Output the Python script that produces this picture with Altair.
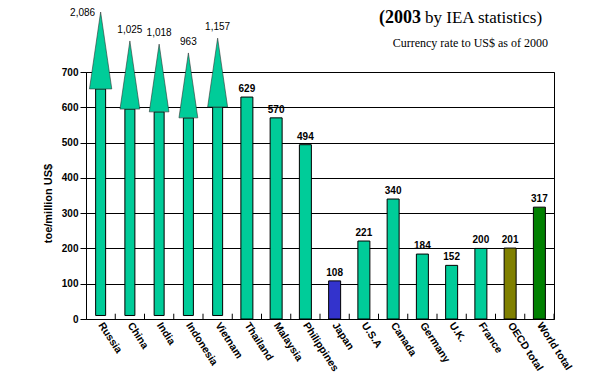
import altair as alt
import pandas as pd

countries = ["Russia", "China", "India", "Indonesia", "Vietnam", "Thailand", "Malaysia",
             "Philippines", "Japan", "U.S.A", "Canada", "Germany", "U.K.", "France",
             "OECD total", "World total"]
values = [2086, 1025, 1018, 963, 1157, 629, 570, 494, 108, 221, 340, 184, 152, 200, 201, 317]
colors = ["#00CC99"] * 8 + ["#3333CC"] + ["#00CC99"] * 5 + ["#808000", "#008000"]

# off-scale countries drawn as arrows (head base / tip, in toe units)
arrow_countries = countries[:5]
arrow_values = values[:5]
arrow_base = [652, 595, 587, 570, 601]
arrow_tip = [870, 788, 779, 754, 796]
shaft_start = 10

title_a = "(2003"
title_b = "by IEA statistics)"
subtitle = "Currency rate to US$ as of 2000"
y_title = "toe/million US$"
y_ticks = [0, 100, 200, 300, 400, 500, 600, 700]

W, H = 468, 247
YMAX = 700
TEAL = "#00CC99"
px_per_unit = H / YMAX

bars = pd.DataFrame({"country": countries[5:], "value": values[5:], "color": colors[5:]})
bars["label"] = bars["value"].map(lambda v: f"{v:,}")

arrows = pd.DataFrame({"country": arrow_countries, "value": arrow_values,
                       "base": arrow_base, "tip": arrow_tip})
arrows["start"] = shaft_start
arrows["mid"] = (arrows["base"] + arrows["tip"]) / 2
arrows["sz"] = ((arrows["tip"] - arrows["base"]) * px_per_unit) ** 2
arrows["label"] = arrows["value"].map(lambda v: f"{v:,}")

allc = pd.DataFrame({"country": countries})

xscale = alt.Scale(domain=countries, paddingInner=0, paddingOuter=0)
xaxis = alt.Axis(title=None, labelAngle=57, labelAlign="left", labelBaseline="middle",
                 labelFont="Liberation Sans", labelFontWeight="bold", labelFontSize=10.5,
                 labelColor="black", ticks=False, domain=False, labelPadding=4)
X = alt.X("country:N", sort=countries, scale=xscale, axis=xaxis)
yscale = alt.Scale(domain=[0, YMAX], nice=False)
yaxis = alt.Axis(title=y_title, values=y_ticks, grid=True,
                 gridColor="black", gridOpacity=1, gridWidth=1, labelOverlap=False,
                 tickColor="black", tickSize=6, domain=False,
                 labelFont="Liberation Sans", labelFontWeight="bold", labelFontSize=10,
                 labelColor="black", labelPadding=2,
                 titleFont="Liberation Sans", titleFontWeight="bold", titleFontSize=11,
                 titleColor="black", titlePadding=8, titleY=131)


def yq(field):
    return alt.Y(field, scale=yscale, axis=yaxis)


bar_layer = alt.Chart(bars).mark_bar(size=12, stroke="black", strokeWidth=1).encode(
    x=X, y=yq("value:Q"), color=alt.Color("color:N", scale=None))

shaft_layer = alt.Chart(arrows).mark_bar(size=10, stroke="black", strokeWidth=1, color=TEAL).encode(
    x=X, y=yq("base:Q"), y2="start:Q")

head_layer = alt.Chart(arrows).mark_point(
    shape="M-0.29,1L0,-1L0.29,1Z", filled=True, color=TEAL, opacity=1,
    stroke="#333333", strokeWidth=0.6).encode(
    x=X, y=yq("mid:Q"), size=alt.Size("sz:Q", scale=None))

arrow_lbl = alt.Chart(arrows).transform_filter(alt.datum.country != "Russia").mark_text(
    dy=-8, baseline="alphabetic", font="Liberation Sans", fontSize=10, color="black").encode(
    x=X, y=yq("tip:Q"), text="label:N")

russia_lbl = alt.Chart(arrows).transform_filter(alt.datum.country == "Russia").mark_text(
    dx=-18, dy=4, baseline="alphabetic", font="Liberation Sans", fontSize=10, color="black").encode(
    x=X, y=yq("tip:Q"), text="label:N")

bar_lbl = alt.Chart(bars).mark_text(
    dy=-5, baseline="alphabetic", font="Liberation Sans", fontWeight="bold", fontSize=10,
    color="black").encode(
    x=X, y=yq("value:Q"), text="label:N")

tick_layer = alt.Chart(allc).mark_rule(xOffset=W / len(countries) / 2, color="black",
                                       strokeWidth=1).encode(
    x=X, y=alt.Y(datum=0, scale=yscale, axis=yaxis), y2=alt.datum(15))

t1 = alt.Chart(pd.DataFrame({"t": [title_a]})).mark_text(
    align="right", baseline="alphabetic", font="Liberation Serif", fontSize=18,
    fontWeight="bold", color="black").encode(
    text="t:N", x=alt.value(335), y=alt.value(-49))
t2 = alt.Chart(pd.DataFrame({"t": [title_b]})).mark_text(
    align="left", baseline="alphabetic", font="Liberation Serif", fontSize=17,
    color="black").encode(
    text="t:N", x=alt.value(339), y=alt.value(-49))
t3 = alt.Chart(pd.DataFrame({"t": [subtitle]})).mark_text(
    align="right", baseline="alphabetic", font="Liberation Serif", fontSize=12,
    color="black").encode(
    text="t:N", x=alt.value(462), y=alt.value(-25))

chart = alt.layer(bar_layer, shaft_layer, head_layer, tick_layer, arrow_lbl, russia_lbl,
                  bar_lbl, t1, t2, t3).properties(
    width=W, height=H,
    autosize=alt.AutoSizeParams(type="none"),
    padding={"left": 78, "top": 64, "right": 30, "bottom": 55},
    background="white",
).configure_view(stroke="black", strokeWidth=1)

chart.save("out.html", embed_options={"renderer": "svg", "actions": False})
